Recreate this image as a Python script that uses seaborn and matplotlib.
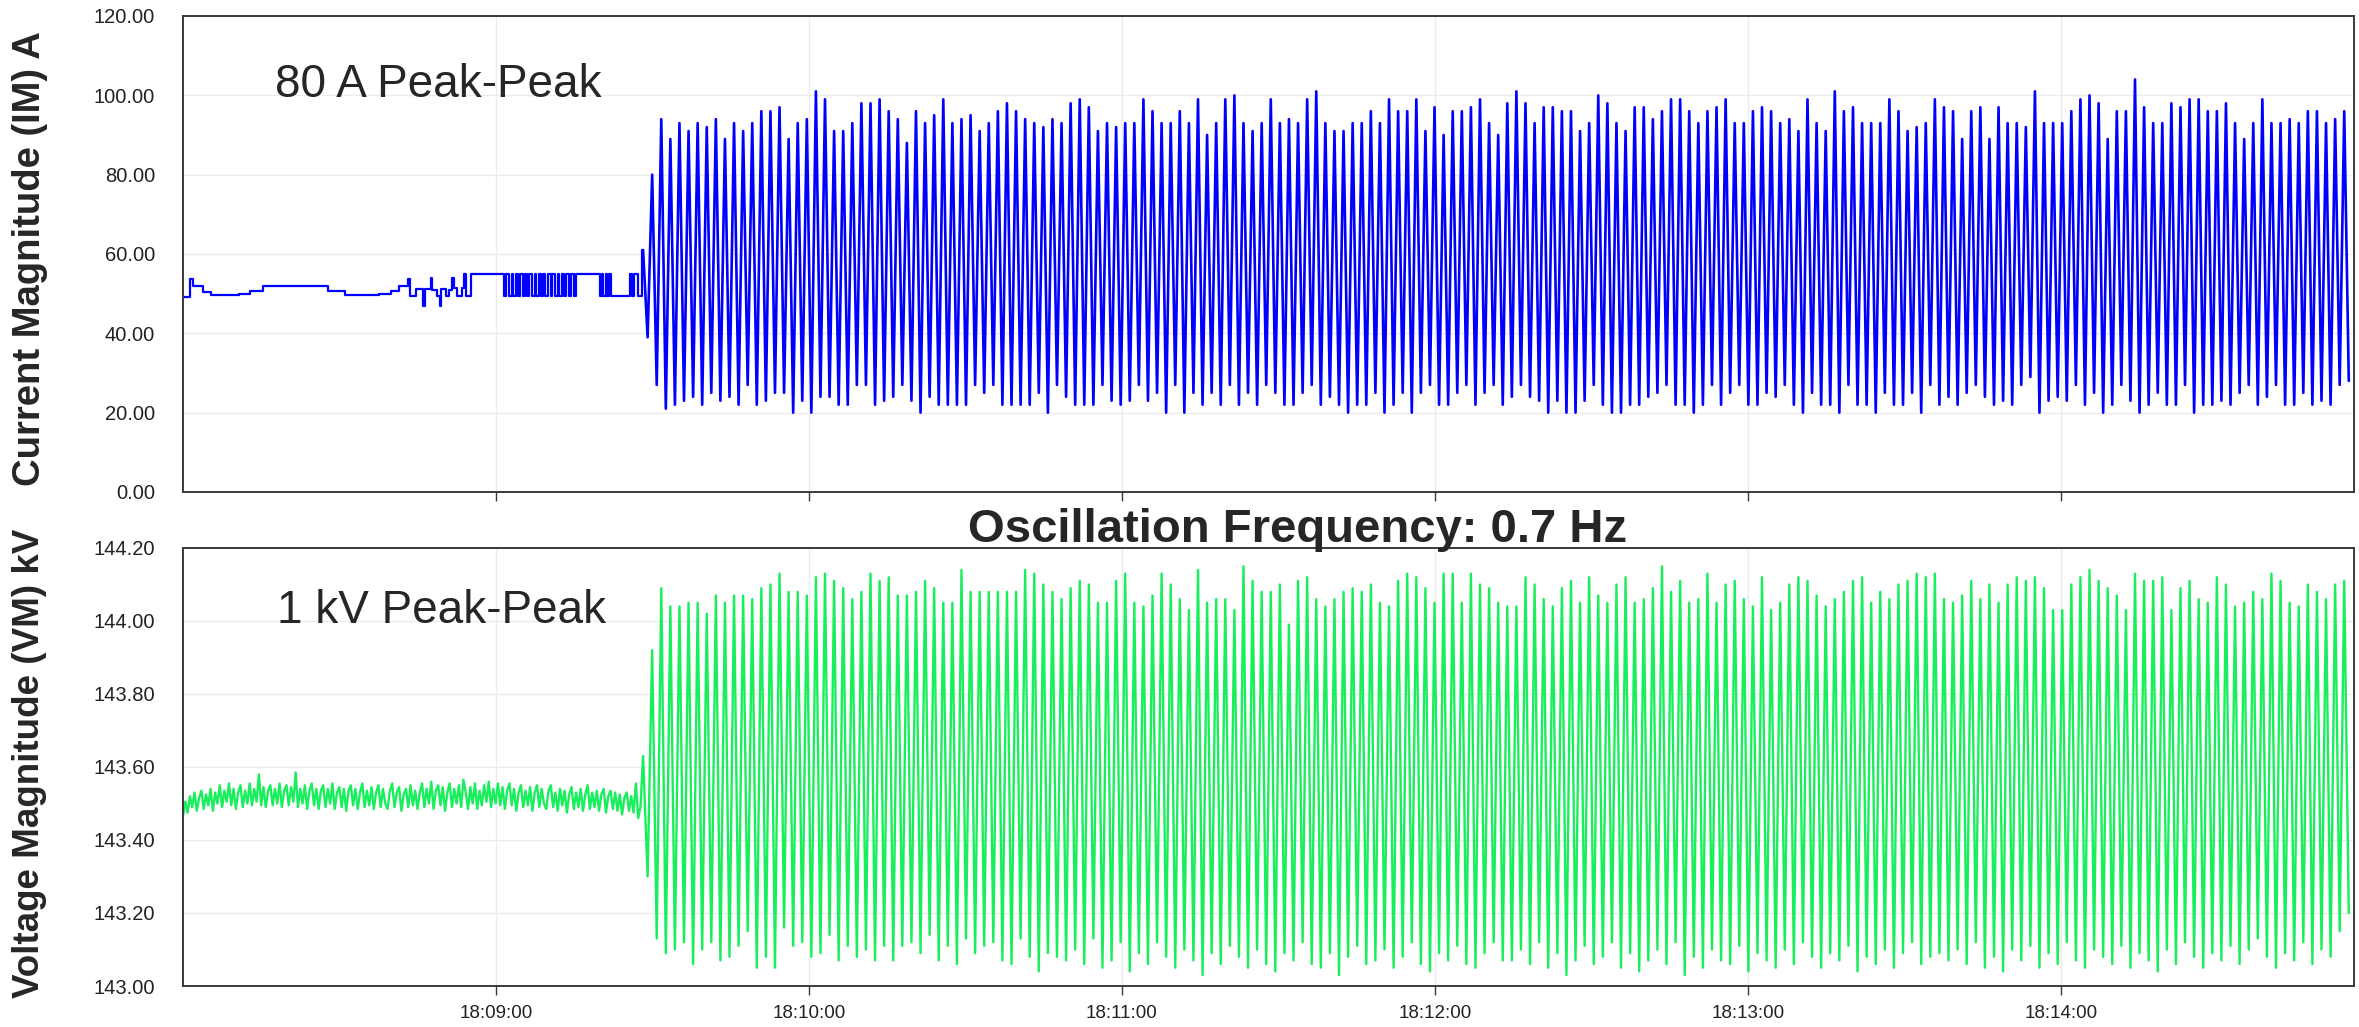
import numpy as np
import pandas as pd
import seaborn as sns
import matplotlib.pyplot as plt
import matplotlib.dates as mdates
from matplotlib.ticker import FormatStrFormatter, MultipleLocator

# values, times in seconds after 18:08:00

# current before the event (step trace)
cur_pre_t = [0, 1.3, 1.9, 3.9, 5.3, 10.7, 12.8, 15.4, 27.8, 31.0, 37.5, 39.8,
             41.5, 43.2, 43.5, 44.7, 46.0, 46.4, 47.5, 47.8, 48.6, 49.2, 49.5,
             50.5, 50.9, 51.5, 52.0, 52.6, 53.5, 53.9, 54.3, 55.2,
             61.6, 62.0, 62.5, 63.0, 63.2, 63.8, 64.3, 64.6, 65.1, 65.5, 66.0,
             66.3, 66.9, 67.4, 67.7, 68.2, 68.6, 69.1, 69.4, 70.0, 70.5, 70.8,
             71.3, 71.8, 72.1, 72.6, 73.1, 73.5, 74.0, 74.4, 74.9, 75.3,
             80.0, 80.3, 80.6, 81.0, 81.3, 81.7, 82.0, 85.6, 86.0, 86.4, 87.3,
             87.9, 88.2]
cur_pre_a = [49.2, 53.8, 52.0, 50.5, 49.6, 49.8, 50.6, 52.0, 50.6, 49.6, 49.9, 50.6,
             52.0, 53.8, 49.4, 51.2, 47.0, 51.2, 54.0, 51.0, 49.5, 47.0, 51.2,
             49.5, 51.0, 54.0, 51.5, 49.5, 51.5, 55.0, 49.5, 55.0,
             49.3, 55.0, 49.3, 55.0, 49.3, 55.0, 49.3, 55.0, 49.3, 55.0, 49.3,
             55.0, 49.3, 55.0, 49.3, 55.0, 49.3, 55.0, 49.3, 55.0, 49.3, 55.0,
             49.3, 55.0, 49.3, 55.0, 49.3, 55.0, 49.3, 55.0, 49.3, 55.0,
             49.3, 55.0, 49.3, 55.0, 49.3, 55.0, 49.3, 55.0, 49.3, 55.0, 49.5,
             61.0, 61.0]

# current oscillation: successive peaks and troughs (A)
cur_peaks = [61, 80, 94, 89, 93, 91, 93, 92, 94, 89, 93, 91,
             93, 96, 96, 97, 89, 93, 94, 101, 99, 91, 91, 93, 98, 98, 99, 96, 94, 88, 96, 93,
             95, 99, 93, 94, 95, 91, 93, 96, 98, 96, 94, 93, 92, 94, 93, 98, 99, 97, 91, 93, 92, 93,
             93, 99, 96, 93, 93, 96, 93, 99, 90, 93, 99, 100, 93, 91, 93, 99, 93, 94, 93, 99,
             101, 93, 91, 91, 93, 93, 96, 93, 99, 96, 96, 99, 91, 97, 90, 96, 96, 97, 99, 93,
             90, 98, 101, 98, 93, 97, 97, 96,
             96, 91, 93, 100, 98, 93, 91, 97, 97, 94, 96, 99, 99, 96, 93, 96, 97, 99, 93, 93,
             96, 97, 96, 93, 94, 91, 99, 93, 91, 101, 96, 97, 93, 93, 93, 99, 96, 91, 92, 93,
             99, 97, 96, 89, 96, 97, 89,
             97, 93, 93, 92, 101, 93, 93, 93, 96, 99, 100, 98, 89, 96, 96, 104, 97, 93, 93, 98,
             97, 99, 99, 96, 96, 98, 93, 89, 93, 99, 93, 93, 94, 93, 96, 96, 93, 94, 96]
cur_troughs = [39, 27, 21, 22, 23, 24, 22, 25, 23, 24, 22, 27,
               22, 23, 25, 25, 20, 23, 20, 24, 24, 22, 22, 27, 27, 22, 23, 24, 27, 23, 20, 24,
               22, 22, 22, 22, 27, 25, 27, 22, 22, 22, 22, 25, 20, 27, 24, 22, 22, 22, 27, 23, 22, 23,
               27, 23, 25, 20, 27, 20, 25, 22, 25, 22, 27, 22, 25, 22, 27, 25, 22, 22, 25, 27,
               22, 24, 22, 20, 22, 22, 25, 20, 22, 25, 20, 25, 27, 22, 22, 25, 27, 22, 25, 27,
               22, 24, 27, 24, 23, 20, 23, 20,
               20, 23, 27, 22, 20, 20, 22, 22, 24, 25, 27, 22, 22, 20, 22, 27, 22, 25, 27, 22,
               22, 25, 24, 27, 22, 20, 25, 22, 22, 20, 27, 22, 22, 20, 25, 22, 22, 25, 20, 27,
               22, 24, 22, 25, 27, 24, 22,
               23, 22, 27, 29, 20, 23, 24, 23, 27, 22, 25, 20, 22, 27, 23, 20, 22, 25, 22, 22,
               27, 20, 22, 22, 23, 22, 25, 27, 22, 24, 27, 22, 22, 25, 22, 23, 22, 27, 28]

# voltage before the event, in V above 143 kV
volt_pre_v = [465, 505, 475, 520, 490, 530, 480, 515, 535, 485, 525, 495, 540, 480, 530, 500, 550, 490, 535, 505,
              555, 495, 540, 485, 530, 550, 490, 535, 500, 555, 495, 540, 505, 580, 495, 545, 490, 535, 550, 495,
              540, 500, 555, 490, 535, 550, 495, 545, 505, 585, 490, 540, 500, 550, 485, 535, 555, 495, 540, 485,
              535, 550, 490, 540, 500, 555, 485, 530, 545, 490, 540, 480, 535, 550, 495, 540, 485, 530, 555, 490,
              535, 495, 545, 485, 530, 550, 490, 540, 500, 485, 535, 555, 490, 530, 545, 480, 525, 540, 490, 550,
              495, 535, 485, 530, 555, 490, 540, 500, 560, 485, 535, 550, 495, 545, 480, 530, 555, 490, 540, 500,
              550, 490, 565, 530, 485, 545, 500, 555, 485, 535, 495, 550, 505, 560, 490, 540, 500, 555, 495, 545,
              485, 535, 555, 495, 540, 480, 530, 550, 490, 535, 495, 545, 480, 530, 550, 490, 540, 500, 485, 535,
              550, 490, 530, 480, 540, 495, 535, 475, 525, 545, 485, 530, 490, 540, 480, 525, 550, 485, 530, 490,
              535, 480, 525, 540, 475, 520, 535, 485, 530, 480, 525, 470, 515, 530, 480, 520, 475, 555, 460, 490]

# voltage oscillation: successive peaks and troughs (kV)
volt_peaks = [143.63, 143.92, 144.09, 144.04, 144.04, 144.05, 144.05,
              144.02, 144.07, 144.05, 144.07, 144.07, 144.06, 144.09, 144.10, 144.13, 144.08,
              144.08, 144.07, 144.12, 144.13, 144.11, 144.09, 144.06, 144.08, 144.13, 144.11,
              144.12, 144.07, 144.07, 144.08, 144.11, 144.09, 144.05, 144.05, 144.14, 144.08,
              144.08, 144.08, 144.08, 144.08, 144.08, 144.14, 144.13, 144.10, 144.08, 144.06,
              144.09, 144.11, 144.10, 144.05, 144.05, 144.11, 144.13, 144.05, 144.04, 144.07,
              144.13, 144.10, 144.06, 144.03, 144.14, 144.05, 144.06, 144.06, 144.03, 144.15,
              144.11, 144.08, 144.08, 144.10, 143.99, 144.11, 144.12, 144.06, 144.04, 144.06,
              144.08, 144.09, 144.08, 144.10, 144.05, 144.04, 144.11, 144.13, 144.12, 144.09,
              144.05, 144.13, 144.13, 144.05, 144.13, 144.10, 144.09, 144.05,
              144.04, 144.04, 144.12, 144.10, 144.06, 144.04, 144.09, 144.11, 144.05, 144.12,
              144.07, 144.05, 144.10, 144.12, 144.05, 144.06, 144.09, 144.15, 144.08, 144.11,
              144.05, 144.06, 144.13, 144.05, 144.10, 144.11, 144.06, 144.04, 144.12, 144.03,
              144.05, 144.10, 144.12, 144.11, 144.07, 144.04, 144.06, 144.08, 144.11, 144.12,
              144.05, 144.08, 144.06, 144.10, 144.11, 144.13, 144.12,
              144.13, 144.06, 144.05, 144.07, 144.11, 144.06, 144.10, 144.05, 144.10, 144.12,
              144.11, 144.12, 144.09, 144.03, 144.03, 144.10, 144.12, 144.14, 144.11, 144.09,
              144.07, 144.03, 144.13, 144.11, 144.11, 144.12, 144.03, 144.09, 144.11, 144.06,
              144.05, 144.12, 144.10, 144.04, 144.05, 144.08, 144.06, 144.13, 144.11, 144.05,
              144.04, 144.10, 144.08, 144.06, 144.10, 144.11]
volt_troughs = [143.30, 143.13, 143.09, 143.10, 143.12, 143.06, 143.10,
                143.12, 143.07, 143.08, 143.11, 143.15, 143.05, 143.08, 143.05, 143.16, 143.11,
                143.12, 143.08, 143.09, 143.14, 143.07, 143.11, 143.08, 143.10, 143.07, 143.11,
                143.07, 143.11, 143.12, 143.09, 143.14, 143.07, 143.11, 143.06, 143.13, 143.09,
                143.11, 143.12, 143.07, 143.06, 143.13, 143.08, 143.04, 143.09, 143.08, 143.07,
                143.10, 143.06, 143.13, 143.05, 143.07, 143.12, 143.04, 143.09, 143.06, 143.12,
                143.08, 143.05, 143.10, 143.07, 143.03, 143.09, 143.06, 143.11, 143.08, 143.05,
                143.10, 143.06, 143.04, 143.09, 143.07, 143.12, 143.06, 143.05, 143.09, 143.03,
                143.08, 143.11, 143.06, 143.07, 143.10, 143.05, 143.08, 143.12, 143.06, 143.04,
                143.09, 143.07, 143.11, 143.06, 143.05, 143.09, 143.12, 143.07,
                143.07, 143.10, 143.06, 143.12, 143.05, 143.09, 143.03, 143.07, 143.11, 143.06,
                143.08, 143.12, 143.05, 143.09, 143.04, 143.07, 143.10, 143.06, 143.12, 143.03,
                143.08, 143.05, 143.10, 143.07, 143.06, 143.11, 143.04, 143.09, 143.07, 143.05,
                143.10, 143.06, 143.12, 143.08, 143.05, 143.09, 143.07, 143.11, 143.04, 143.08,
                143.06, 143.10, 143.05, 143.09, 143.12, 143.06, 143.08,
                143.09, 143.07, 143.10, 143.06, 143.12, 143.05, 143.08, 143.04, 143.10, 143.07,
                143.11, 143.05, 143.09, 143.06, 143.12, 143.07, 143.05, 143.10, 143.08, 143.06,
                143.11, 143.05, 143.09, 143.07, 143.04, 143.10, 143.06, 143.12, 143.08, 143.05,
                143.09, 143.07, 143.11, 143.06, 143.10, 143.13, 143.08, 143.05, 143.09, 143.07,
                143.12, 143.06, 143.10, 143.08, 143.15, 143.20]

osc_start = 88.2      # s after 18:08:00, first swing
half_period = 0.872   # s from a peak to the next trough
t_end = 416.2
minute_ticks = [60, 120, 180, 240, 300, 360]

base = pd.Timestamp("2019-01-01 18:08:00")


def to_time(sec):
    return base + pd.to_timedelta(np.asarray(sec, dtype=float), unit="s")


def swings(peaks, troughs):
    n = min(len(peaks), len(troughs))
    vals = np.empty(2 * n)
    vals[0::2] = peaks[:n]
    vals[1::2] = troughs[:n]
    t = osc_start + half_period * np.arange(2 * n)
    return t, vals


cur_t, cur_v = swings(cur_peaks, cur_troughs)
vo_t, vo_v = swings(volt_peaks, volt_troughs)
vp_t = np.linspace(0, osc_start - 0.5, len(volt_pre_v))
volt_t = np.concatenate([vp_t, vo_t])
volt_v = np.concatenate([143.0 + np.array(volt_pre_v) / 1000.0, vo_v])

sns.set_style("white")
plt.rcParams["font.family"] = ["Liberation Sans", "DejaVu Sans"]

W, H = 2359, 1027
fig = plt.figure(figsize=(W / 100, H / 100), dpi=100)
ax1 = fig.add_axes([183 / W, 1 - 492 / H, 2171 / W, 476 / H])
ax2 = fig.add_axes([183 / W, 1 - 986 / H, 2171 / W, 438 / H])

blue = "#0000ff"
green = "#19ef5c"

sns.lineplot(x=to_time(cur_pre_t), y=cur_pre_a, ax=ax1, color=blue, linewidth=1.6,
             drawstyle="steps-post", estimator=None)
sns.lineplot(x=to_time(cur_t), y=cur_v, ax=ax1, color=blue, linewidth=1.9, estimator=None)
sns.lineplot(x=to_time(volt_t), y=volt_v, ax=ax2, color=green, linewidth=1.7, estimator=None)

tick_pos = [mdates.date2num(t.to_pydatetime()) for t in to_time(minute_ticks)]
for ax in (ax1, ax2):
    ax.set_xlim(to_time(0), to_time(t_end))
    ax.set_xticks(tick_pos)
    ax.xaxis.set_major_formatter(mdates.DateFormatter("%H:%M:%S"))
    ax.yaxis.set_major_formatter(FormatStrFormatter("%.2f"))
    ax.grid(True, color="#ececec", linewidth=1.0)
    for s in ax.spines.values():
        s.set_color("#3a3a3a")
        s.set_linewidth(1.4)
    ax.tick_params(axis="y", length=17, width=1.0, color="#3a3a3a", pad=3,
                   labelsize=14.5, labelcolor="#222222")
    ax.tick_params(axis="x", length=6.5, width=1.0, color="#3a3a3a", pad=7,
                   labelsize=13.5, labelcolor="#222222", bottom=True)
    ax.set_xlabel("")

ax1.set_ylim(0, 120)
ax1.yaxis.set_major_locator(MultipleLocator(20))
ax1.tick_params(axis="x", labelbottom=False)
ax2.set_ylim(143.0, 144.2)
ax2.yaxis.set_major_locator(MultipleLocator(0.2))

ax1.set_ylabel("Current Magnitude (IM) A", fontsize=27.5, fontweight="bold", va="center")
ax2.set_ylabel("Voltage Magnitude (VM) kV", fontsize=26.5, fontweight="bold", va="center")
ax1.yaxis.set_label_coords(-0.0705, 0.49)
ax2.yaxis.set_label_coords(-0.0705, 0.508)

ax1.text(0.0424, 0.830, "80 A Peak-Peak", transform=ax1.transAxes, fontsize=33,
         va="baseline", ha="left")
ax2.text(0.0433, 0.829, "1 kV Peak-Peak", transform=ax2.transAxes, fontsize=33,
         va="baseline", ha="left")
fig.text(1298 / W, 1 - 542 / H, "Oscillation Frequency: 0.7 Hz", fontsize=34,
         fontweight="bold", ha="center", va="baseline")

fig.savefig("out.png", dpi=100)
